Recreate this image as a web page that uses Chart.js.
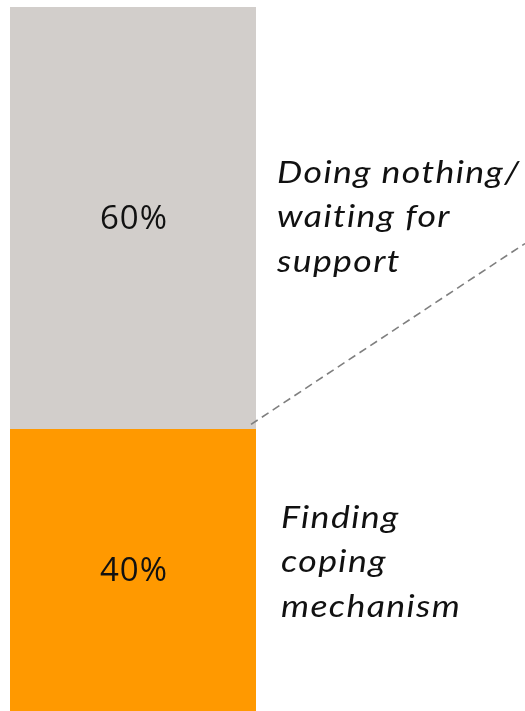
<!DOCTYPE html>
<html>
<head>
<meta charset="utf-8">
<script src="https://cdn.jsdelivr.net/npm/chart.js@4/dist/chart.umd.min.js"></script>
<style>
  html, body { margin: 0; padding: 0; background: #fff; }
  #wrap { width: 525px; height: 711px; position: relative; }
</style>
</head>
<body>
<div id="wrap"><canvas id="chart"></canvas></div>
<script>
// single 100% stacked column, bottom segment first
const categories = ['Response'];
const segmentNames = ['Finding coping mechanism', 'Doing nothing/ waiting for support'];
const segmentValues = [40, 60];
const segmentColors = ['#ff9900', '#d2cecb'];
const segmentLines = [
    ['Finding', 'coping', 'mechanism'],
    ['Doing nothing/', 'waiting for', 'support']
];

// draws the value inside each segment, the side captions and the dashed leader
const segmentLabels = {
    id: 'segmentLabels',
    afterDatasetsDraw(chart) {
        const ctx = chart.ctx;
        const y = chart.scales.y;
        const area = chart.chartArea;
        const bottomTop = y.getPixelForValue(segmentValues[0]);

        ctx.save();
        ctx.fillStyle = '#111';
        ctx.textAlign = 'center';
        ctx.textBaseline = 'middle';
        ctx.font = '33px "Open Sans"';
        ctx.letterSpacing = '1px';
        let base = 0;
        segmentValues.forEach((v) => {
            const mid = y.getPixelForValue(base + v / 2);
            ctx.fillText(v + '%', (area.left + area.right) / 2 + 1, mid + 1);
            base += v;
        });

        // captions: slightly widened italic
        ctx.textAlign = 'left';
        ctx.font = 'italic 31px Lato';
        ctx.letterSpacing = '1.2px';
        const sx = 1.15;
        const lineH = 44.5;
        base = 0;
        segmentLines.forEach((lines, i) => {
            const mid = y.getPixelForValue(base + segmentValues[i] / 2);
            const shift = i === 0 ? -8 : -1;
            const x0 = area.right + (i === 0 ? 25 : 21);
            lines.forEach((t, k) => {
                ctx.save();
                ctx.translate(x0, mid + shift + (k - (lines.length - 1) / 2) * lineH);
                ctx.scale(sx, 1);
                ctx.fillText(t, 0, 0);
                ctx.restore();
            });
            base += segmentValues[i];
        });

        // dashed leader from the segment boundary out to the right edge
        ctx.strokeStyle = '#7f7f7f';
        ctx.lineWidth = 1.6;
        ctx.setLineDash([8, 5]);
        ctx.beginPath();
        ctx.moveTo(area.right - 5, bottomTop - 5);
        ctx.lineTo(chart.width, y.getPixelForValue(66.4));
        ctx.stroke();
        ctx.restore();
    }
};

new Chart(document.getElementById('chart'), {
    type: 'bar',
    data: {
        labels: categories,
        datasets: segmentValues.map((v, i) => ({
            label: segmentNames[i],
            data: [v],
            backgroundColor: segmentColors[i],
            borderWidth: 0,
            barPercentage: 1,
            categoryPercentage: 1
        }))
    },
    options: {
        responsive: true,
        maintainAspectRatio: false,
        animation: false,
        layout: { padding: { left: 10, right: 269, top: 7, bottom: 0 } },
        plugins: {
            legend: { display: false },
            tooltip: { enabled: false }
        },
        scales: {
            x: { stacked: true, display: false },
            y: { stacked: true, display: false, min: 0, max: 100 }
        }
    },
    plugins: [segmentLabels]
});
</script>
</body>
</html>
